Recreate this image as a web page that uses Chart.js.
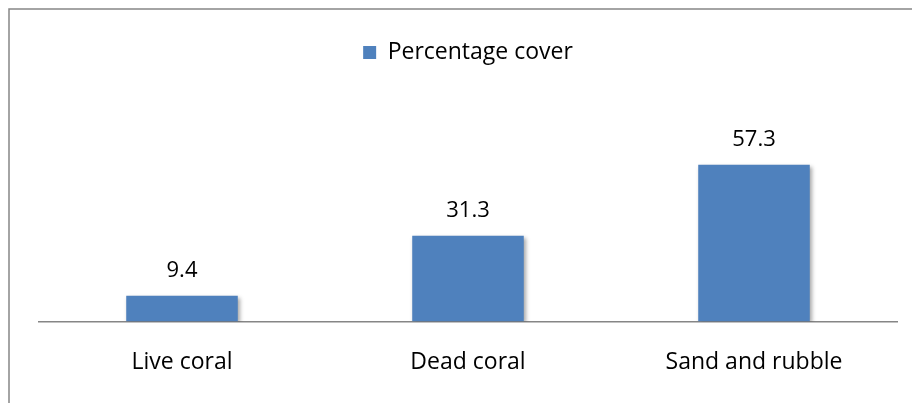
<!DOCTYPE html>
<html>
<head>
<meta charset="utf-8">
<script src="https://cdn.jsdelivr.net/npm/chart.js@4/dist/chart.umd.min.js"></script>
<style>
  body { margin: 0; background: #fff; }
  #wrap { width: 912px; height: 403px; position: relative; }
</style>
</head>
<body>
<div id="wrap"><canvas id="coverChart"></canvas></div>
<script>
//Chart data
let categories = ["Live coral", "Dead coral", "Sand and rubble"];
let coverValues = [9.4, 31.3, 57.3];
let seriesName = "Percentage cover";

let barColor = "#4F81BD";
let lineColor = "#868686";
let fontFamily = "'Open Sans'";

//Outer frame like the spreadsheet chart border
var framePlugin = {
  id: "frame",
  beforeDraw: function(chart) {
    let c = chart.ctx;
    c.save();
    c.strokeStyle = lineColor;
    c.lineWidth = 1.5;
    c.beginPath();
    c.moveTo(9, chart.height);
    c.lineTo(9, 9);
    c.lineTo(chart.width, 9);
    c.stroke();
    c.restore();
  }
};

//Extra room under the legend
var legendGap = {
  id: "legendGap",
  beforeInit: function(chart) {
    let fit = chart.legend.fit;
    chart.legend.fit = function() {
      fit.bind(chart.legend)();
      this.height += 56;
    };
  }
};

//Soft shadow under the bars
var shadowPlugin = {
  id: "barShadow",
  beforeDatasetDraw: function(chart) {
    let c = chart.ctx;
    c.save();
    c.shadowColor = "rgba(0,0,0,0.35)";
    c.shadowBlur = 4;
    c.shadowOffsetX = 2;
    c.shadowOffsetY = 2;
  },
  afterDatasetDraw: function(chart) {
    chart.ctx.restore();
  }
};

//Value labels above each bar
var valueLabels = {
  id: "valueLabels",
  afterDatasetsDraw: function(chart) {
    let c = chart.ctx;
    let meta = chart.getDatasetMeta(0);
    c.save();
    c.fillStyle = "#000";
    c.font = "22px " + fontFamily;
    c.textAlign = "center";
    c.textBaseline = "bottom";
    meta.data.forEach(function(bar, i) {
      c.fillText(coverValues[i].toFixed(1), bar.x, bar.y - 14);
    });
    c.restore();
  }
};

var ctx = document.getElementById("coverChart").getContext("2d");
var chart = new Chart(ctx, {
  type: "bar",
  data: {
    labels: categories,
    datasets: [{
      label: seriesName,
      data: coverValues,
      backgroundColor: barColor,
      borderWidth: 0,
      barPercentage: 0.39,
      categoryPercentage: 1
    }]
  },
  options: {
    responsive: true,
    maintainAspectRatio: false,
    animation: false,
    layout: {
      padding: { left: 39, right: 15, top: 31, bottom: 0 }
    },
    plugins: {
      legend: {
        display: true,
        position: "top",
        labels: {
          color: "#000",
          font: { family: fontFamily, size: 23 },
          boxWidth: 13,
          boxHeight: 13,
          padding: 10
        }
      },
      tooltip: { enabled: false }
    },
    scales: {
      x: {
        grid: { display: false, drawTicks: false },
        border: { display: true, color: lineColor, width: 1.5 },
        ticks: {
          color: "#000",
          font: { family: fontFamily, size: 23 },
          padding: 27
        }
      },
      y: {
        display: false,
        min: 0,
        max: 70
      }
    }
  },
  plugins: [framePlugin, legendGap, shadowPlugin, valueLabels]
});
</script>
</body>
</html>
